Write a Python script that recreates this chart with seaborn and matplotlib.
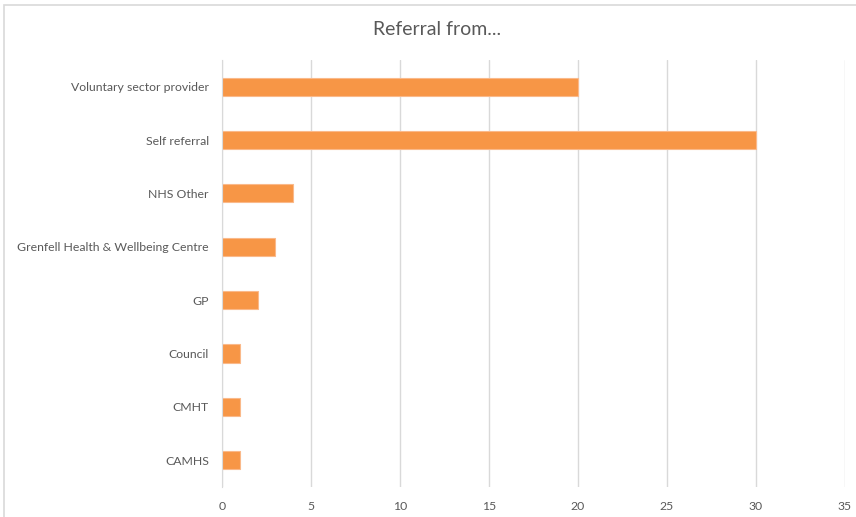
import pandas as pd
import matplotlib.pyplot as plt
import seaborn as sns
from matplotlib.patches import Rectangle

# Referral sources and counts (top to bottom as shown)
sources = [
    "Voluntary sector provider",
    "Self referral",
    "NHS Other",
    "Grenfell Health & Wellbeing Centre",
    "GP",
    "Council",
    "CMHT",
    "CAMHS",
]
counts = [20, 30, 4, 3, 2, 1, 1, 1]
x_ticks = [0, 5, 10, 15, 20, 25, 30, 35]

df = pd.DataFrame({"Source": sources, "Count": counts})

sns.set_style("white")
plt.rcParams["font.family"] = ["Lato", "DejaVu Sans"]

fig = plt.figure(figsize=(8.56, 5.17), dpi=100)
ax = fig.add_axes([0.2593, 0.058, 0.7278, 0.826])

sns.barplot(data=df, x="Count", y="Source", order=sources, color="#F79646",
            saturation=1, width=0.34, edgecolor="#FAB98A", linewidth=0.8, ax=ax)

ax.set_xlim(0, 35)
ax.set_xticks(x_ticks)
ax.grid(axis="x", color="#D9D9D9", linewidth=1)
ax.set_axisbelow(True)
for s in ["top", "right", "bottom"]:
    ax.spines[s].set_visible(False)
ax.spines["left"].set_color("#D9D9D9")
ax.tick_params(axis="both", length=0, colors="#595959", labelsize=8.8)
ax.tick_params(axis="x", pad=10)
ax.tick_params(axis="y", pad=9.4)
ax.set_xlabel("")
ax.set_ylabel("")

fig.text(0.511, 0.942, "Referral from...", ha="center", va="center",
         fontsize=14, color="#595959")

# chart frame
fig.patches.append(Rectangle((4 / 856, -0.05), 1.1, 1 - 5 / 517 + 0.05,
                             transform=fig.transFigure, fill=False,
                             edgecolor="#D9D9D9", linewidth=1.2))

fig.savefig("out.png", dpi=100)
